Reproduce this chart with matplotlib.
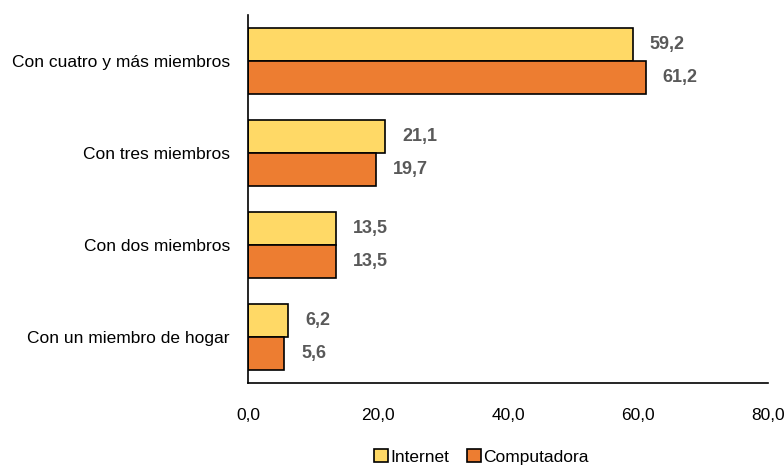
import matplotlib
matplotlib.use("Agg")
import matplotlib.pyplot as plt
import numpy as np
from matplotlib import font_manager

fams = {f.name for f in font_manager.fontManager.ttflist}
FONT = "Liberation Sans Narrow" if "Liberation Sans Narrow" in fams else "Liberation Sans"
plt.rcParams['font.family'] = [FONT, 'DejaVu Sans']

categories = ["Con cuatro y más miembros", "Con tres miembros",
              "Con dos miembros", "Con un miembro de hogar"]
internet = [59.2, 21.1, 13.5, 6.2]
computadora = [61.2, 19.7, 13.5, 5.6]
xticks = [0, 20, 40, 60, 80]

fig = plt.figure(figsize=(7.84, 4.66), dpi=100)
ax = fig.add_axes([248 / 784, 1 - 383 / 466, 520 / 784, 368 / 466])

y = np.arange(len(categories))
h = 0.36
b1 = ax.barh(y - h / 2, internet, height=h, color="#FFD966", edgecolor="black", linewidth=1.2, label="Internet")
b2 = ax.barh(y + h / 2, computadora, height=h, color="#ED7D31", edgecolor="black", linewidth=1.2, label="Computadora")

for bars, vals in ((b1, internet), (b2, computadora)):
    for bar, v in zip(bars, vals):
        ax.text(v + 2.6, bar.get_y() + bar.get_height() / 2, f"{v:.1f}".replace(".", ","),
                va="center", ha="left", fontsize=13, fontweight="bold", color="#595959")

ax.set_ylim(3.5, -0.5)
ax.set_xlim(0, 80)
ax.set_yticks(y)
ax.set_yticklabels(categories, fontsize=12.5)
ax.set_xticks(xticks)
ax.set_xticklabels([f"{t:.1f}".replace(".", ",") for t in xticks], fontsize=12.5)
ax.tick_params(length=0, pad=18, axis="x")
ax.tick_params(length=0, pad=13, axis="y")
for s in ("top", "right"):
    ax.spines[s].set_visible(False)
for s in ("left", "bottom"):
    ax.spines[s].set_linewidth(1.2)

fig.legend(handles=[b1, b2], loc="center", bbox_to_anchor=(0.614, 1 - 457 / 466),
           ncol=2, frameon=False, fontsize=12.5, handlelength=0.8, handleheight=0.8,
           handletextpad=0.15, columnspacing=1.0)

fig.savefig("out.png", dpi=100)
